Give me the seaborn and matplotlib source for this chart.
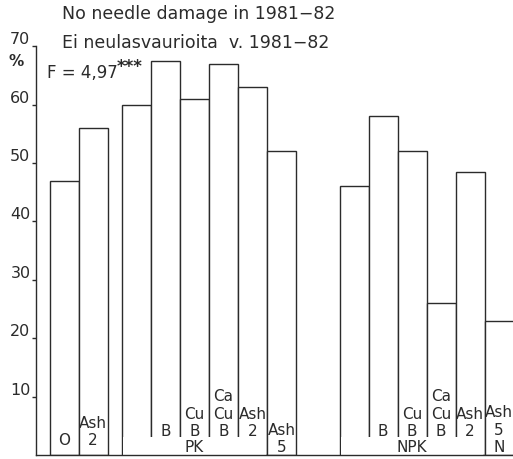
import matplotlib
matplotlib.use("Agg")
import matplotlib.pyplot as plt
import seaborn as sns
import pandas as pd
from matplotlib.patches import Rectangle

# ---- data ----
positions = [0, 1, 2.5, 3.5, 4.5, 5.5, 6.5, 7.5, 10, 11, 12, 13, 14, 15]
values = [47, 56, 60, 67.5, 61, 67, 63, 52, 46, 58, 52, 26, 48.5, 23]
bar_labels = ["O", "Ash\n2", "", "B", "Cu\nB", "Ca\nCu\nB", "Ash\n2", "Ash\n5",
              "", "B", "Cu\nB", "Ca\nCu\nB", "Ash\n2", "Ash\n5\nN"]
# groups: (name, first bar index, last bar index)
group_names = ["PK", "NPK"]
group_spans = [(2, 6), (8, 12)]
yticks = [10, 20, 30, 40, 50, 60, 70]
title1 = "No needle damage in 1981\u221282"
title2 = "Ei neulasvaurioita  v. 1981\u221282"
ftext = "F = 4,97"
fstars = "***"

# ---- style ----
sns.set_style("white")
plt.rcParams['font.family'] = ['DejaVu Sans']
ink = "#2b2b2b"

W, H = 513, 460
fig = plt.figure(figsize=(W / 100, H / 100), dpi=100)
# axes: left spine at x=36px, baseline at y=456px, top at y=0
ax = fig.add_axes([36 / W, (H - 456) / H, 1 - 36 / W, 456 / H])

df = pd.DataFrame({"pos": positions, "val": values})
sns.barplot(data=df, x="pos", y="val", native_scale=True, width=1,
            color="white", edgecolor=ink, linewidth=1.0, ax=ax)

px_per_unit_x = 29.0
ax.set_xlim(-(64 - 36) / px_per_unit_x, (513 - 64) / px_per_unit_x)
px_per_val = 5.84
ax.set_ylim(0, 456 / px_per_val)

def ypx(p):
    """convert pixel row (from top) to data value"""
    return (456 - p) / px_per_val

# cover inner separator lines at the bottom of each group (label zone)
for (a, b) in group_spans:
    x0 = positions[a] - 0.5 + 0.04
    x1 = positions[b] + 0.5 - 0.04
    ax.add_patch(Rectangle((x0, 0), x1 - x0, ypx(438), facecolor="white",
                           edgecolor="none", zorder=3))

in_group = set()
for (a, b) in group_spans:
    in_group.update(range(a, b + 1))

label_fs = 11
line_step = 17.5
for i, (x, lab) in enumerate(zip(positions, bar_labels)):
    if not lab:
        continue
    lines = lab.split("\n")[::-1]
    if i in in_group:
        base = 432
    elif i in (0, 1):
        base = 441
    else:
        base = 448
    for k, ln in enumerate(lines):
        ax.text(x, ypx(base - line_step * k), ln, ha="center", va="center",
                fontsize=label_fs, color=ink, zorder=4)

for name, (a, b) in zip(group_names, group_spans):
    xc = sum(positions[a:b + 1]) / (b - a + 1)
    ax.text(xc, ypx(448), name, ha="center", va="center", fontsize=label_fs,
            color=ink, zorder=4)

# axes styling
for s in ["top", "right"]:
    ax.spines[s].set_visible(False)
ax.spines["left"].set_bounds(0, 70)
ax.spines["left"].set_color(ink)
ax.spines["bottom"].set_color(ink)
ax.spines["left"].set_linewidth(1.0)
ax.spines["bottom"].set_linewidth(1.0)
ax.spines["bottom"].set_zorder(5)
ax.set_xticks([])
ax.set_yticks(yticks)
ax.set_yticklabels([str(t) for t in yticks])
ax.tick_params(axis="y", direction="out", length=3, width=1.0, color=ink,
               labelsize=11.5, labelcolor=ink, pad=1, left=True)
for lab in ax.get_yticklabels():
    lab.set_va("bottom")
ax.set_xlabel("")
ax.set_ylabel("")
ax.patch.set_alpha(0)

# texts
fig.text(62 / W, 1 - 14 / H, title1, ha="left", va="center", fontsize=12.5,
         color=ink)
fig.text(62 / W, 1 - 43 / H, title2, ha="left", va="center", fontsize=12.5,
         color=ink)
fig.text(16 / W, 1 - 62 / H, "%", ha="center", va="center", fontsize=11,
         fontweight="bold", color=ink)
fig.text(47 / W, 1 - 73 / H, ftext, ha="left", va="center", fontsize=12,
         color=ink)
fig.text(117 / W, 1 - 67 / H, fstars, ha="left", va="center", fontsize=12,
         fontweight="bold", color=ink)

fig.savefig("out.png", dpi=100, facecolor="white")
